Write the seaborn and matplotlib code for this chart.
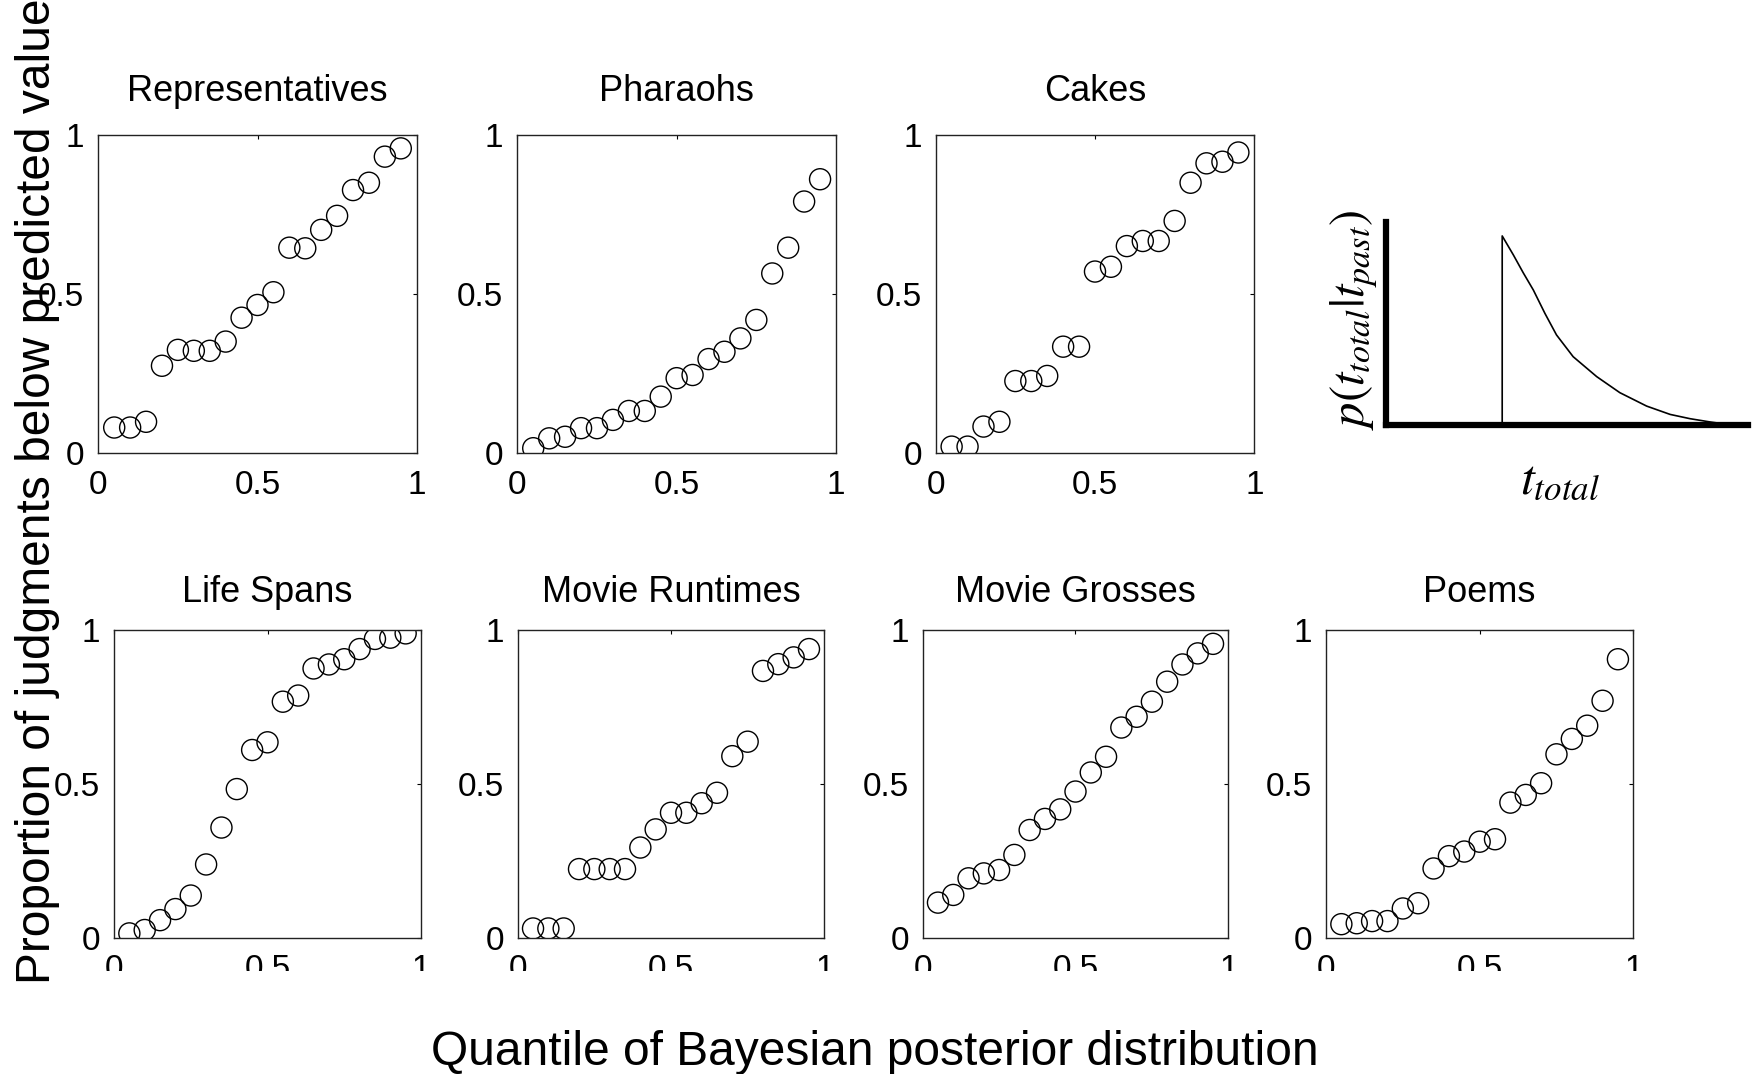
import numpy as np
import pandas as pd
import matplotlib
matplotlib.use("Agg")
import matplotlib.pyplot as plt
from matplotlib.patches import Rectangle
import seaborn as sns

# ---------------- data ----------------
quantiles = [0.05, 0.10, 0.15, 0.20, 0.25, 0.30, 0.35, 0.40, 0.45, 0.50,
             0.55, 0.60, 0.65, 0.70, 0.75, 0.80, 0.85, 0.90, 0.95]

representatives = [0.081, 0.081, 0.099, 0.275, 0.325, 0.322, 0.322, 0.351, 0.426, 0.466,
                   0.506, 0.646, 0.644, 0.702, 0.746, 0.827, 0.850, 0.932, 0.958]
pharaohs = [0.016, 0.047, 0.052, 0.079, 0.079, 0.105, 0.133, 0.133, 0.178, 0.236,
            0.246, 0.296, 0.319, 0.361, 0.419, 0.565, 0.646, 0.791, 0.861]
cakes = [0.021, 0.021, 0.084, 0.099, 0.227, 0.227, 0.243, 0.335, 0.335, 0.571,
         0.586, 0.651, 0.667, 0.667, 0.730, 0.850, 0.911, 0.916, 0.945]
life_spans = [0.014, 0.025, 0.057, 0.093, 0.137, 0.238, 0.358, 0.483, 0.610, 0.635,
              0.767, 0.787, 0.875, 0.888, 0.905, 0.938, 0.971, 0.975, 0.989]
movie_runtimes = [0.030, 0.030, 0.030, 0.223, 0.223, 0.223, 0.223, 0.293, 0.352, 0.406,
                  0.406, 0.437, 0.471, 0.590, 0.637, 0.867, 0.889, 0.911, 0.938]
movie_grosses = [0.114, 0.139, 0.193, 0.209, 0.220, 0.269, 0.350, 0.386, 0.417, 0.475,
                 0.537, 0.588, 0.683, 0.718, 0.767, 0.832, 0.888, 0.924, 0.955]
poems = [0.044, 0.047, 0.054, 0.054, 0.095, 0.112, 0.225, 0.265, 0.280, 0.312,
         0.320, 0.439, 0.464, 0.502, 0.596, 0.646, 0.689, 0.770, 0.905]

titles = ["Representatives", "Pharaohs", "Cakes",
          "Life Spans", "Movie Runtimes", "Movie Grosses", "Poems"]
series = [representatives, pharaohs, cakes,
          life_spans, movie_runtimes, movie_grosses, poems]

tick_values = [0, 0.5, 1]
tick_labels = ["0", "0.5", "1"]

# schematic posterior curve
post_x = [0.321, 0.321, 0.352, 0.379, 0.407, 0.439, 0.471, 0.517, 0.582, 0.646,
          0.720, 0.785, 0.840, 0.895, 0.932, 0.960]
post_y = [0.000, 0.930, 0.836, 0.749, 0.664, 0.549, 0.443, 0.336, 0.238, 0.159,
          0.093, 0.052, 0.031, 0.015, 0.006, 0.000]

xlabel = "Quantile of Bayesian posterior distribution"
ylabel = "Proportion of judgments below predicted value"

# ---------------- style ----------------
sns.set_theme(style="white")
plt.rcParams["font.family"] = ["Liberation Sans", "DejaVu Sans"]
plt.rcParams["mathtext.fontset"] = "stix"

W, H = 1758, 1074
fig = plt.figure(figsize=(W / 100, H / 100), dpi=100)
fig.patch.set_facecolor("white")

def px_rect(left, top, right, bottom):
    return [left / W, 1 - bottom / H, (right - left) / W, (bottom - top) / H]

positions = [
    px_rect(98.3, 135, 416.7, 453.3),
    px_rect(517.3, 135, 836.0, 453.3),
    px_rect(935.7, 135, 1254.3, 453.3),
    px_rect(114.0, 630, 421.0, 937.7),
    px_rect(517.7, 630, 824.3, 937.7),
    px_rect(922.7, 630, 1228.3, 937.7),
    px_rect(1326.0, 630, 1633.3, 937.7),
]
title_pads = [24.5, 24.5, 24.5, 20.5, 20.5, 20.5, 20.5]

for pos, title, vals, tpad in zip(positions, titles, series, title_pads):
    ax = fig.add_axes(pos)
    df = pd.DataFrame({"q": quantiles, "p": vals})
    sns.scatterplot(data=df, x="q", y="p", ax=ax, marker="o", s=230,
                    facecolor="none", edgecolor="black", linewidth=1.0,
                    legend=False)
    ax.set_xlim(0, 1)
    ax.set_ylim(0, 1)
    ax.set_xticks(tick_values)
    ax.set_xticklabels(tick_labels)
    ax.set_yticks(tick_values)
    ax.set_yticklabels(tick_labels)
    ax.set_xlabel("")
    ax.set_ylabel("")
    ax.tick_params(direction="in", length=3, width=0.8, color="black",
                   top=True, right=True, labelsize=24, labelcolor="black")
    ax.tick_params(axis="x", pad=12)
    ax.tick_params(axis="y", pad=10)
    for sp in ax.spines.values():
        sp.set_visible(True)
        sp.set_color("#222222")
        sp.set_linewidth(1.0)
    ax.set_title(title, fontsize=26, pad=tpad, color="black")

# ---------------- inset schematic ----------------
iax = fig.add_axes(px_rect(1386, 221.7, 1748, 425))
sns.lineplot(x=post_x, y=post_y, ax=iax, color="black", linewidth=1.2,
             sort=False, estimator=None)
iax.set_xlim(0, 1)
iax.set_ylim(0, 1)
iax.set_xticks([])
iax.set_yticks([])
iax.spines["top"].set_visible(False)
iax.spines["right"].set_visible(False)
iax.spines["left"].set_linewidth(4.5)
iax.spines["bottom"].set_linewidth(4.5)
iax.spines["left"].set_color("black")
iax.spines["bottom"].set_color("black")
iax.patch.set_alpha(0)

fig.text(1354 / W, 1 - 320 / H, r"$p(t_{total}|t_{past})$", rotation=90,
         ha="center", va="center", fontsize=35, color="black")
fig.text(1560 / W, 1 - 493 / H, r"$t_{total}$", ha="center", va="baseline",
         fontsize=36, color="black")

# white band that trims the lower tick labels as in the reference
fig.add_artist(Rectangle((90 / W, 1 - 1012 / H), 1610 / W, 41 / H,
                         transform=fig.transFigure, facecolor="white",
                         edgecolor="none", zorder=10))

# ---------------- shared labels ----------------
fig.text(874.5 / W, 9 / H, xlabel, ha="center", va="baseline",
         fontsize=34.5, color="black", zorder=11)
fig.text(15 / W, 1 - 491 / H, ylabel, rotation=90, ha="left", va="center",
         fontsize=34.5, color="black", zorder=11)

fig.savefig("out.png", dpi=100, facecolor="white")
